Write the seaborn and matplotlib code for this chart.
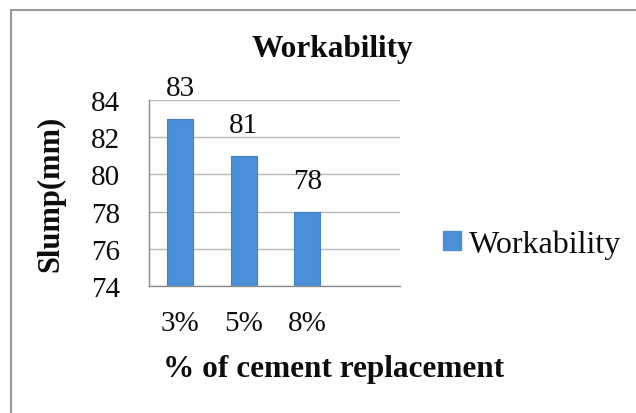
import matplotlib
matplotlib.use("Agg")
import matplotlib.pyplot as plt
from matplotlib.lines import Line2D
from matplotlib.patches import Patch
import pandas as pd
import seaborn as sns

# values
replacement = ["3%", "5%", "8%"]
slump = [83, 81, 78]
series_name = "Workability"

df = pd.DataFrame({"Replacement": replacement, "Slump": slump})

sns.set_style("white")
plt.rcParams["font.family"] = ["Liberation Serif", "DejaVu Serif"]

bar_color = "#4b8fd9"
grid_color = "#b8b8b8"
text_color = "#0d0d0d"

fig = plt.figure(figsize=(6.36, 4.14), dpi=100)
ax = fig.add_axes([149 / 636, 1 - 287 / 414, 251 / 636, 186 / 414])

sns.barplot(data=df, x="Replacement", y="Slump", color=bar_color,
            width=0.41, saturation=1, edgecolor="#3f80c8", linewidth=0.8, ax=ax)

ax.set_ylim(74, 84)
ax.set_yticks(range(74, 85, 2))
ax.set_xlim(-0.49, 3.46)
ax.yaxis.grid(True, color=grid_color, linewidth=1.0)
ax.set_axisbelow(True)
for side in ["top", "right"]:
    ax.spines[side].set_visible(False)
for side in ["left", "bottom"]:
    ax.spines[side].set_color("#8c8c8c")
    ax.spines[side].set_linewidth(1.0)
ax.tick_params(axis="both", length=0, labelsize=21, colors=text_color)
ax.tick_params(axis="y", pad=21)
ax.tick_params(axis="x", pad=17)
ax.set_xlabel("")
ax.set_ylabel("Slump(mm)", fontsize=22, fontweight="bold", color=text_color)
ax.yaxis.set_label_coords(-84 / 251, 0.5)

# value labels above each bar
for i, v in enumerate(slump):
    ax.annotate(str(v), xy=(i, v), xytext=(0, 13), textcoords="offset points",
                ha="center", va="bottom", fontsize=21, color=text_color,
                annotation_clip=False)

fig.text(332 / 636, 1 - 50 / 414, "Workability", ha="center", va="center",
         fontsize=22.5, fontweight="bold", color=text_color)
fig.text(334 / 636, 1 - 370 / 414, "% of cement replacement", ha="center",
         va="center", fontsize=22.5, fontweight="bold", color=text_color)

fig.legend(handles=[Patch(facecolor=bar_color, edgecolor=bar_color, label=series_name)],
           loc="center left", bbox_to_anchor=(443 / 636, 1 - 245 / 414),
           frameon=False, fontsize=23, handlelength=0.55, handleheight=0.55,
           handletextpad=0.25, borderpad=0, borderaxespad=0, labelcolor=text_color)

# outer chart frame (left and top edges visible)
fig.add_artist(Line2D([11 / 636, 11 / 636], [0, 1 - 11 / 414],
                      transform=fig.transFigure, color="#9a9a9a", linewidth=1.5))
fig.add_artist(Line2D([11 / 636, 1], [1 - 11 / 414, 1 - 11 / 414],
                      transform=fig.transFigure, color="#9a9a9a", linewidth=1.5))

fig.savefig("out.png", dpi=100)
